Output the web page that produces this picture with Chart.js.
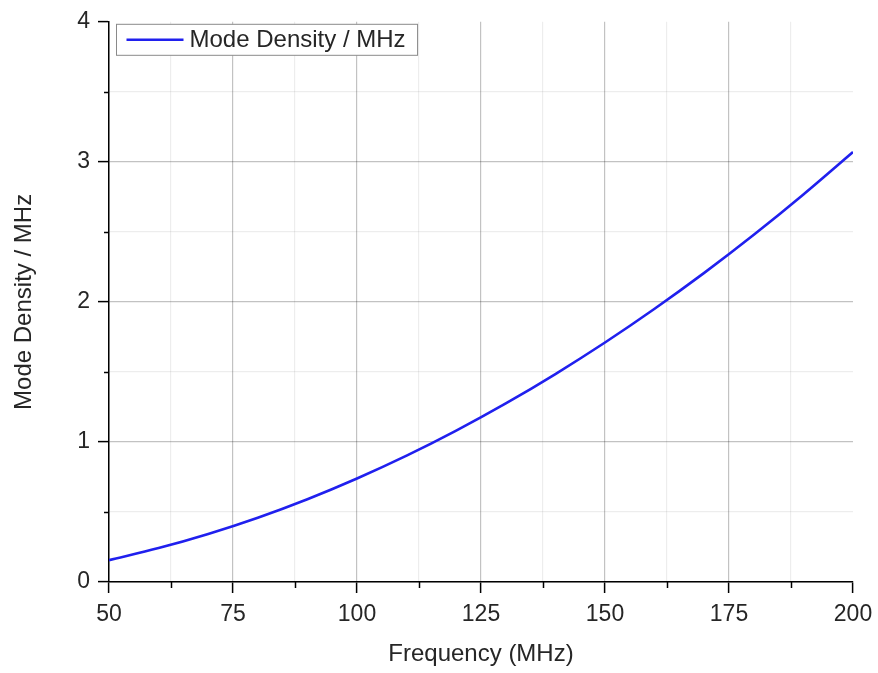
<!DOCTYPE html>
<html>
<head>
<meta charset="utf-8">
<script src="https://cdn.jsdelivr.net/npm/chart.js@4/dist/chart.umd.min.js"></script>
<style>
  html, body { margin: 0; padding: 0; background: #ffffff; }
  #wrap { width: 878px; height: 673px; }
</style>
</head>
<body>
<div id="wrap"><canvas id="c" width="878" height="673"></canvas></div>
<script>
// Frequency samples (MHz) and the mode density per MHz at each one
const freqs   = [50, 60, 70, 80, 90, 100, 110, 120, 130, 140, 150, 160, 170, 180, 190, 200];
const density = [0.156, 0.242, 0.343, 0.459, 0.591, 0.739, 0.902, 1.081, 1.275, 1.485, 1.71, 1.951, 2.207, 2.479, 2.767, 3.07];

const seriesLabel = 'Mode Density / MHz';
const xTitle = 'Frequency (MHz)';
const yTitle = 'Mode Density / MHz';

// Axis ranges and tick spacing (labels on major ticks only)
const xRange = [50, 200];
const yRange = [0, 4];
const xMajor = 25, xMinor = 12.5;
const yMajor = 1,  yMinor = 0.5;

const TEXT = '#262626';
const FONT = 'Liberation Sans, Arial, sans-serif';
const MAJOR_GRID = 'rgba(0,0,0,0.24)';
const MINOR_GRID = 'rgba(0,0,0,0.07)';

const isMajor = (v, step) => Math.abs(v / step - Math.round(v / step)) < 1e-6;

// Short minor tick marks outside the axes, plus a boxed legend inside the plot
const decorations = {
  id: 'decorations',
  afterDraw(chart) {
    const {ctx, chartArea: a, scales: {x, y}} = chart;
    ctx.save();
    ctx.strokeStyle = '#000';
    ctx.lineWidth = 1.5;
    x.ticks.forEach(t => {
      if (isMajor(t.value, xMajor)) return;
      const px = Math.round(x.getPixelForValue(t.value)) + 0.5;
      ctx.beginPath(); ctx.moveTo(px, a.bottom); ctx.lineTo(px, a.bottom + 6); ctx.stroke();
    });
    y.ticks.forEach(t => {
      if (isMajor(t.value, yMajor)) return;
      const py = Math.round(y.getPixelForValue(t.value)) + 0.5;
      ctx.beginPath(); ctx.moveTo(a.left, py); ctx.lineTo(a.left - 5, py); ctx.stroke();
    });

    // legend
    const ds = chart.data.datasets[0];
    const bx = a.left + 7.5, by = a.top + 2.5;
    ctx.font = '24px ' + FONT;
    const tw = ctx.measureText(ds.label).width;
    const bw = 81 + tw + 4, bh = 31;
    ctx.fillStyle = '#fff';
    ctx.fillRect(bx, by, bw, bh);
    ctx.strokeStyle = '#8a8a8a';
    ctx.lineWidth = 1;
    ctx.strokeRect(bx, by, bw, bh);
    ctx.strokeStyle = ds.borderColor;
    ctx.lineWidth = ds.borderWidth;
    ctx.beginPath(); ctx.moveTo(bx + 10, by + bh / 2); ctx.lineTo(bx + 67, by + bh / 2); ctx.stroke();
    ctx.fillStyle = TEXT;
    ctx.textBaseline = 'middle';
    ctx.textAlign = 'left';
    ctx.fillText(ds.label, bx + 73, by + bh / 2 + 1);
    ctx.restore();
  }
};

new Chart(document.getElementById('c'), {
  type: 'line',
  data: {
    datasets: [{
      label: seriesLabel,
      data: freqs.map((f, i) => ({x: f, y: density[i]})),
      borderColor: '#2020ee',
      borderWidth: 2.6,
      pointRadius: 0,
      fill: false,
      cubicInterpolationMode: 'monotone'
    }]
  },
  options: {
    responsive: false,
    animation: false,
    layout: { padding: { top: 19, right: 25, left: 0, bottom: 0 } },
    plugins: { legend: { display: false }, tooltip: { enabled: false } },
    scales: {
      x: {
        type: 'linear',
        min: xRange[0], max: xRange[1],
        afterFit: s => { s.height = 91; s.paddingLeft = 0; s.paddingRight = 0; },
        border: { display: true, color: '#000', width: 1.5 },
        grid: {
          color: c => (c.tick.value === xRange[1] ? 'transparent' : (isMajor(c.tick.value, xMajor) ? MAJOR_GRID : MINOR_GRID)),
          lineWidth: 1.2,
          tickLength: 11,
          tickWidth: 1.5,
          tickColor: c => (isMajor(c.tick.value, xMajor) ? '#000' : 'transparent')
        },
        ticks: {
          stepSize: xMinor,
          autoSkip: false,
          maxRotation: 0,
          padding: 8,
          color: TEXT,
          font: { family: FONT, size: 23 },
          callback: v => (isMajor(v, xMajor) ? String(v) : '')
        },
        title: {
          display: true, text: xTitle, color: TEXT,
          font: { family: FONT, size: 24 },
          padding: { top: 0, bottom: 4 }
        }
      },
      y: {
        type: 'linear',
        min: yRange[0], max: yRange[1],
        afterFit: s => { s.width = 109; },
        border: { display: true, color: '#000', width: 1.5 },
        grid: {
          color: c => (c.tick.value === yRange[1] ? 'transparent' : (isMajor(c.tick.value, yMajor) ? MAJOR_GRID : MINOR_GRID)),
          lineWidth: 1.2,
          tickLength: 11,
          tickWidth: 1.5,
          tickColor: c => (isMajor(c.tick.value, yMajor) ? '#000' : 'transparent')
        },
        ticks: {
          stepSize: yMinor,
          autoSkip: false,
          padding: 8,
          color: TEXT,
          font: { family: FONT, size: 23 },
          callback: v => (isMajor(v, yMajor) ? String(v) : '')
        },
        title: {
          display: true, text: yTitle, color: TEXT,
          font: { family: FONT, size: 24 },
          padding: { top: 10, bottom: 0 }
        }
      }
    }
  },
  plugins: [decorations]
});
</script>
</body>
</html>
